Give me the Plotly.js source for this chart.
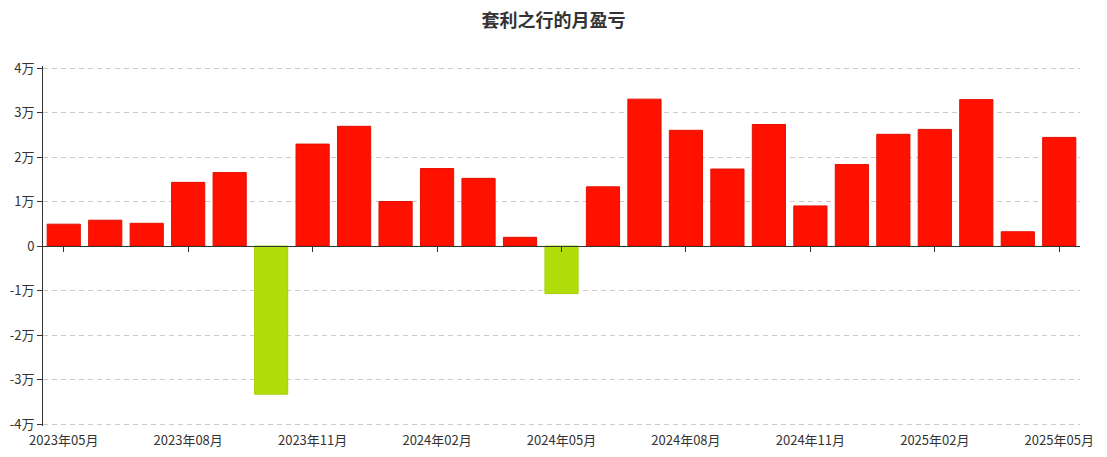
<!DOCTYPE html>
<html><head><meta charset="utf-8">
<script src="https://cdn.plot.ly/plotly-3.0.1.min.js"></script>
<style>html,body{margin:0;padding:0;background:#fff}#chart{width:1107px;height:457px}</style>
</head><body><div id="chart"></div>
<script>
const months = ["2023年05月","2023年06月","2023年07月","2023年08月","2023年09月","2023年10月","2023年11月","2023年12月","2024年01月","2024年02月","2024年03月","2024年04月","2024年05月","2024年06月","2024年07月","2024年08月","2024年09月","2024年10月","2024年11月","2024年12月","2025年01月","2025年02月","2025年03月","2025年04月","2025年05月"];
const profit = [4900,5800,5100,14300,16500,-33300,22900,26900,10000,17400,15200,1950,-10700,13300,33000,26000,17300,27300,9000,18300,25100,26200,32900,3200,24400];
const tickMonths = ["2023年05月","2023年08月","2023年11月","2024年02月","2024年05月","2024年08月","2024年11月","2025年02月","2025年05月"];
const yTickVals = [-40000,-30000,-20000,-10000,0,10000,20000,30000,40000];
const yTickText = ["-4万","-3万","-2万","-1万","0","1万","2万","3万","4万"];
const colors = profit.map(v => v >= 0 ? "#ff1100" : "#b1dd0b");
const lineColors = profit.map(v => v >= 0 ? "#e31000" : "#a6d00a");

const font = '"Noto Sans CJK SC", "Noto Sans", sans-serif';
const data = [
  {type:"bar", x:months, y:profit, xaxis:"x", yaxis:"y",
   marker:{color:colors, line:{color:lineColors, width:1}}, hoverinfo:"x+y", showlegend:false},
  {type:"scatter", mode:"none", x:months, y:profit, xaxis:"x2", yaxis:"y", hoverinfo:"skip", showlegend:false}
];
const layout = {
  width:1107, height:457,
  margin:{l:43, r:27, t:66, b:31},
  paper_bgcolor:"#fff", plot_bgcolor:"#fff",
  font:{family:font, color:"#333", size:13},
  title:{text:"<b>套利之行的月盈亏</b>", x:0.5, xanchor:"center", y:0.955, yanchor:"middle", font:{size:18, color:"#333", family:font}},
  bargap:0.2,
  xaxis:{type:"category", categoryorder:"array", categoryarray:months, range:[-0.5,24.5],
    anchor:"free", position:0.5, showline:true, linecolor:"#333", linewidth:1,
    ticks:"outside", ticklen:5, tickcolor:"#333", tickvals:tickMonths, showticklabels:false,
    showgrid:false, zeroline:false, fixedrange:true},
  xaxis2:{type:"category", categoryorder:"array", categoryarray:months, range:[-0.5,24.5],
    overlaying:"x", anchor:"y", side:"bottom", showline:false, ticks:"outside", ticklen:2, tickcolor:"rgba(0,0,0,0)",
    tickvals:tickMonths, ticktext:tickMonths, tickfont:{size:13, color:"#333"},
    showgrid:false, zeroline:false, fixedrange:true},
  yaxis:{range:[-40450,40450], tickvals:yTickVals, ticktext:yTickText,
    showline:true, linecolor:"#333", linewidth:1, ticks:"outside", ticklen:5, tickcolor:"#333",
    showgrid:true, gridcolor:"#cccccc", griddash:"5px,4px", gridwidth:1, zeroline:false,
    tickfont:{size:13, color:"#333"}, fixedrange:true}
};
Plotly.newPlot("chart", data, layout, {displayModeBar:false, staticPlot:true});
</script></body></html>
